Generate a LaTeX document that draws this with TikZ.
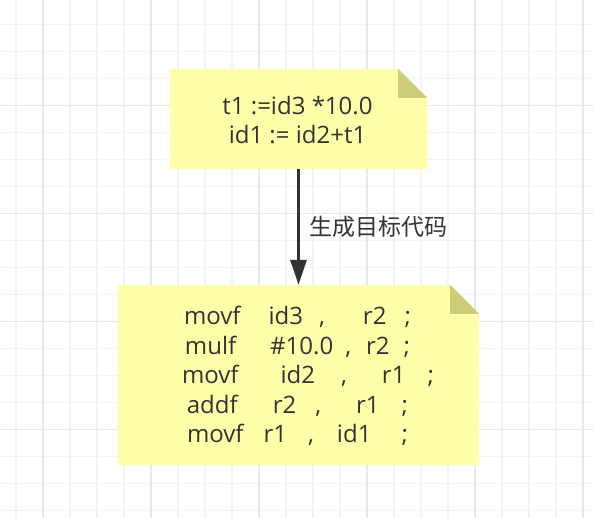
\documentclass[tikz,border=0pt]{standalone}
\usepackage{fontspec}
\setmainfont{Open Sans}
\newfontfamily\cjkfont{Noto Sans CJK SC}
\usepackage{xcolor}
\usetikzlibrary{positioning, arrows.meta, calc}

\definecolor{notefill}{HTML}{FFFFAA}
\definecolor{foldfill}{HTML}{CDCD78}
\definecolor{ink}{HTML}{333333}
\definecolor{minorgrid}{HTML}{F3F3F3}
\definecolor{majorgrid}{HTML}{E8E8E8}

\tikzset{
    notetext/.style = {inner sep=0pt, align=center, text=ink,
        font=\fontsize{24}{29.5}\selectfont},
    flow/.style = {draw=ink, line width=3pt,
        -{Triangle[length=25pt, width=16pt]}},
}

\begin{document}
\begin{tikzpicture}[x=1pt, y=-1pt]
    \useasboundingbox[fill=white] (0,0) rectangle (593,518);

    % Grid
    \foreach \gx in {16,43,...,592} \draw[minorgrid, line width=1.2pt] (\gx,0) -- (\gx,518);
    \foreach \gy in {24.3,51.3,...,517} \draw[minorgrid, line width=1.2pt] (0,\gy) -- (593,\gy);
    \foreach \gx in {43,151,...,592} \draw[majorgrid, line width=1.2pt] (\gx,0) -- (\gx,518);
    \foreach \gy in {105.3,213.3,...,517} \draw[majorgrid, line width=1.2pt] (0,\gy) -- (593,\gy);

    % Three address code
    \node[notetext, minimum width=257pt, minimum height=100pt] (tac) at (298.5,119) {};
    \fill[notefill] (tac.south west) |- ($(tac.north east)+(-29,0)$) -- ($(tac.north east)+(0,29)$) |- cycle;
    \fill[foldfill] ($(tac.north east)+(-29,0)$) -- ($(tac.north east)+(-29,29)$) -- ($(tac.north east)+(0,29)$) -- cycle;
    \node[notetext] (tactext) at (297.5,120) {t1 :=id3 *10.0\\id1 := id2+t1};

    % Target code
    \node[notetext, minimum width=361pt, minimum height=180pt] (asm) at (298.5,375) {};
    \fill[notefill] (asm.south west) |- ($(asm.north east)+(-29,0)$) -- ($(asm.north east)+(0,29)$) |- cycle;
    \fill[foldfill] ($(asm.north east)+(-29,0)$) -- ($(asm.north east)+(-29,29)$) -- ($(asm.north east)+(0,29)$) -- cycle;
    \node[notetext] (code) at (297.5,376) {%
        movf\hspace{28pt}id3\hspace{16pt},\hspace{38pt}r2\hspace{18pt};\\
        mulf\hspace{34pt}\#10.0\hspace{12pt},\hspace{15pt}r2\hspace{14pt};\\
        \hspace*{21pt}movf\hspace{42pt}id2\hspace{26pt},\hspace{35pt}r1\hspace{22pt};\\
        addf\hspace{35pt}r2\hspace{19pt},\hspace{35pt}r1\hspace{22pt};\\
        movf\hspace{20pt}r1\hspace{21pt},\hspace{23pt}id1\hspace{30pt};};

    % Translation
    \draw[flow] (tac) -- (asm) node[midway, right=9pt, inner sep=0pt, text=ink, font=\cjkfont\fontsize{23}{23}\selectfont] (gen) {生成目标代码};

\end{tikzpicture}
\end{document}
